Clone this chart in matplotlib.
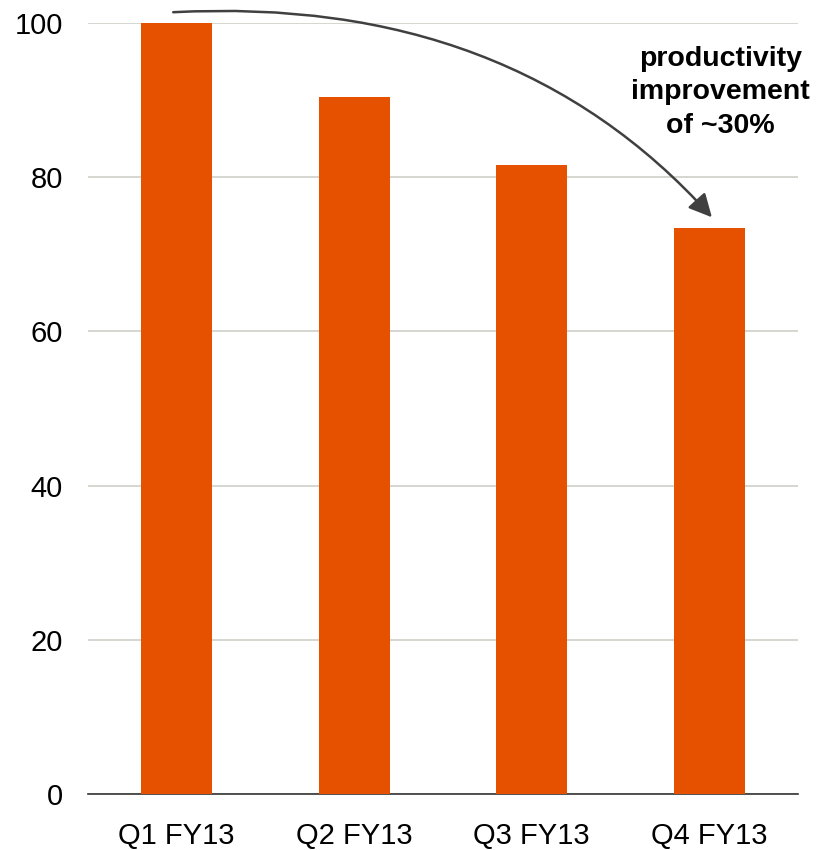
import matplotlib
matplotlib.use("Agg")
import matplotlib.pyplot as plt
import numpy as np

# data
quarters = ["Q1 FY13", "Q2 FY13", "Q3 FY13", "Q4 FY13"]
values = [100, 90.4, 81.6, 73.4]
y_ticks = [0, 20, 40, 60, 80, 100]
note = "productivity\nimprovement\nof ~30%"

plt.rcParams['font.family'] = ['Liberation Sans', 'DejaVu Sans']

fig = plt.figure(figsize=(8.17, 8.5), dpi=100)
ax = fig.add_axes([88 / 817, 56 / 850, 710 / 817, 771 / 850])

x = np.arange(len(quarters))
ax.bar(x, values, width=0.4, color='#E65100', zorder=3)

ax.set_xlim(-0.5, len(quarters) - 0.5)
ax.set_ylim(0, 100)
ax.set_yticks(y_ticks)
ax.set_xticks(x)
ax.set_xticklabels(quarters)

ax.grid(axis='y', color='#D0D0C8', linewidth=1.2, zorder=0)
for side in ['left', 'right', 'top']:
    ax.spines[side].set_visible(False)
ax.spines['bottom'].set_color('#333333')
ax.spines['bottom'].set_linewidth(1.2)
ax.tick_params(axis='both', length=0, labelsize=21)
ax.tick_params(axis='y', pad=18)
ax.tick_params(axis='x', pad=20)

# curved arrow from first bar to last bar
ax.annotate("", xy=(3.015, 74.8), xytext=(-0.02, 101.4),
            arrowprops=dict(arrowstyle="-|>,head_length=0.5,head_width=0.25",
                            color='#404040', lw=1.8,
                            mutation_scale=28, shrinkA=0, shrinkB=0,
                            connectionstyle="angle3,angleA=3,angleB=-48"),
            annotation_clip=False)

ax.text(3.065, 91.0, note, ha='center', va='center', fontsize=20.5,
        fontweight='bold', linespacing=1.38)

fig.savefig("out.png", dpi=100)
